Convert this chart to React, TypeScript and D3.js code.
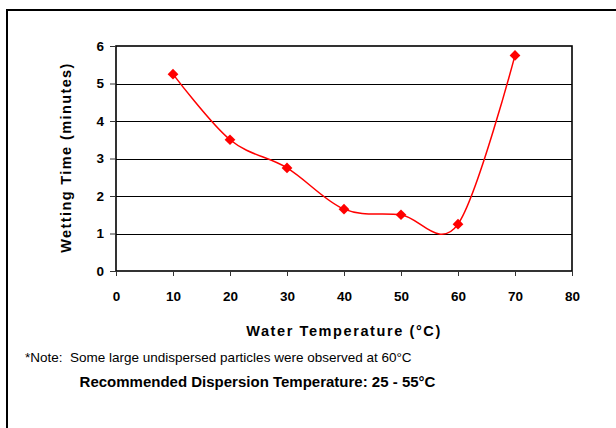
import React, { useEffect, useRef } from "react";
import * as d3 from "d3";

const temps = [10, 20, 30, 40, 50, 60, 70];
const wettingTimes = [5.25, 3.5, 2.75, 1.65, 1.5, 1.25, 5.75];
const xTicks = [0, 10, 20, 30, 40, 50, 60, 70, 80];
const yTicks = [0, 1, 2, 3, 4, 5, 6];
const xTitle = "Water Temperature (°C)";
const yTitle = "Wetting Time (minutes)";
const noteText = "*Note:  Some large undispersed particles were observed at 60°C";
const recText = "Recommended Dispersion Temperature: 25 - 55°C";

const W = 616;
const H = 428;
const plot = { left: 116, right: 572, top: 46, bottom: 271 };

export default function App() {
  const ref = useRef<SVGSVGElement>(null);

  useEffect(() => {
    const svg = d3.select(ref.current);
    svg.selectAll("*").remove();
    const font = "'Liberation Sans', Arial, sans-serif";

    // outer border
    svg.append("rect")
      .attr("x", 7).attr("y", 10).attr("width", 620).attr("height", 430)
      .attr("fill", "white").attr("stroke", "black").attr("stroke-width", 2);

    const x = d3.scaleLinear().domain([0, 80]).range([plot.left, plot.right]);
    const y = d3.scaleLinear().domain([0, 6]).range([plot.bottom, plot.top]);

    // gridlines
    svg.append("g").selectAll("line")
      .data(yTicks.filter(t => t > 0 && t < 6))
      .join("line")
      .attr("x1", plot.left).attr("x2", plot.right)
      .attr("y1", d => Math.round(y(d)) + 0.5).attr("y2", d => Math.round(y(d)) + 0.5)
      .attr("stroke", "black").attr("stroke-width", 1);

    // plot frame
    svg.append("rect")
      .attr("x", plot.left).attr("y", plot.top)
      .attr("width", plot.right - plot.left).attr("height", plot.bottom - plot.top)
      .attr("fill", "none").attr("stroke", "black").attr("stroke-width", 1.6);

    // y axis
    const yAxis = d3.axisLeft(y).tickValues(yTicks).tickSize(6).tickPadding(6).tickFormat(d3.format("d"));
    const gy = svg.append("g").attr("transform", `translate(${plot.left},0)`).call(yAxis);
    gy.select(".domain").remove();
    gy.selectAll("line").attr("stroke", "#333");
    gy.selectAll("text").attr("font-family", font).attr("font-weight", "bold").attr("font-size", 13.5).attr("fill", "black");

    // x axis
    const xAxis = d3.axisBottom(x).tickValues(xTicks).tickSize(5).tickPadding(15).tickFormat(d3.format("d"));
    const gx = svg.append("g").attr("transform", `translate(0,${plot.bottom})`).call(xAxis);
    gx.select(".domain").remove();
    gx.selectAll("line").attr("stroke", "#333");
    gx.selectAll("text").attr("font-family", font).attr("font-weight", "bold").attr("font-size", 13.5).attr("fill", "black");

    // line
    const pts: [number, number][] = temps.map((t, i) => [t, wettingTimes[i]]);
    const line = d3.line<[number, number]>()
      .x(d => x(d[0])).y(d => y(d[1]))
      .curve(d3.curveCardinal.tension(0));
    svg.append("path").datum(pts)
      .attr("d", line).attr("fill", "none").attr("stroke", "#ff0000").attr("stroke-width", 1.5);

    // markers
    svg.append("g").selectAll("path")
      .data(pts)
      .join("path")
      .attr("transform", d => `translate(${x(d[0])},${y(d[1])}) rotate(45)`)
      .attr("d", "M-3.8,-3.8H3.8V3.8H-3.8Z")
      .attr("fill", "#ff0000");

    // axis titles
    svg.append("text")
      .attr("x", 344).attr("y", 331).attr("dy", "0.35em")
      .attr("text-anchor", "middle")
      .attr("font-family", font).attr("font-weight", "bold").attr("font-size", 14.5)
      .attr("letter-spacing", 1.6)
      .text(xTitle);

    svg.append("text")
      .attr("transform", `translate(66,${(plot.top + plot.bottom) / 2 - 1}) rotate(-90)`)
      .attr("dy", "0.35em")
      .attr("text-anchor", "middle")
      .attr("font-family", font).attr("font-weight", "bold").attr("font-size", 14.5)
      .attr("letter-spacing", 1.4)
      .text(yTitle);

    // notes
    svg.append("text")
      .attr("x", 25).attr("y", 357).attr("dy", "0.35em")
      .attr("font-family", font).attr("font-size", 13.5)
      .style("white-space", "pre")
      .text(noteText);

    svg.append("text")
      .attr("x", 257.5).attr("y", 382).attr("dy", "0.35em")
      .attr("text-anchor", "middle")
      .attr("font-family", font).attr("font-weight", "bold").attr("font-size", 15)
      .text(recText);
  }, []);

  return (
    <svg ref={ref} width={W} height={H}
      style={{ position: "absolute", left: 0, top: 0, background: "white" }} />
  );
}
